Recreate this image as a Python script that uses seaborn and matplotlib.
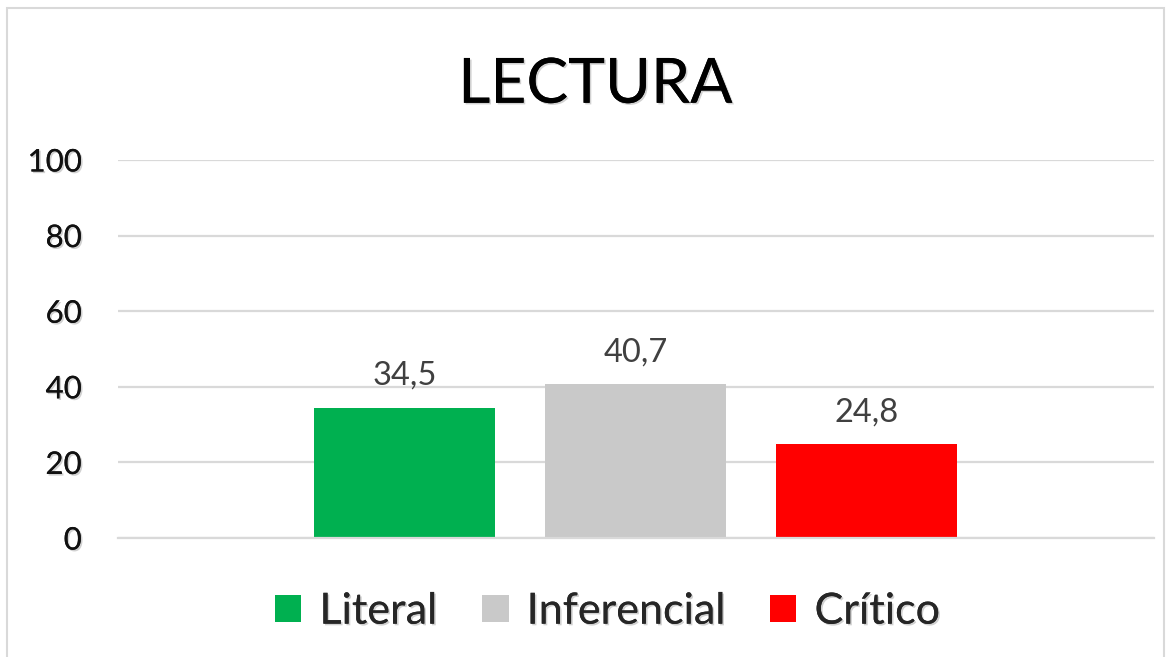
import matplotlib
matplotlib.use("Agg")
import matplotlib.pyplot as plt
import matplotlib.patheffects as pe
from matplotlib.patches import Rectangle, Patch
import seaborn as sns
import pandas as pd

# --- data ---
niveles = ["Literal", "Inferencial", "Crítico"]
valores = [34.5, 40.7, 24.8]
colores = ["#00B050", "#C9C9C9", "#FF0000"]
titulo = "LECTURA"
yticks = [0, 20, 40, 60, 80, 100]

df = pd.DataFrame({"grupo": ["Lectura"] * len(niveles), "nivel": niveles, "valor": valores})

sns.set_theme(style="white")
plt.rcParams["font.family"] = ["Lato", "DejaVu Sans"]

shadow = [pe.withSimplePatchShadow(offset=(1.2, -1.2), shadow_rgbFace="#000000", alpha=0.18), pe.Normal()]

fig = plt.figure(figsize=(11.72, 6.57), dpi=100)
ax = fig.add_axes([0.1005, 0.181, 0.884, 0.5755])

sns.barplot(data=df, x="grupo", y="valor", hue="nivel", hue_order=niveles,
            palette=colores, width=0.669, gap=0.216, legend=False, ax=ax,
            saturation=1, edgecolor="none")

for cont in ax.containers:
    labels = [f"{v:.1f}".replace(".", ",") for v in cont.datavalues]
    ax.bar_label(cont, labels=labels, padding=12, fontsize=23.5, color="#404040")

ax.set_ylim(0, 100)
ax.set_xlim(-0.5, 0.5)
ax.set_yticks(yticks)
ax.set_yticklabels([str(t) for t in yticks], fontsize=22.5, color="#111111")
for lab in ax.get_yticklabels():
    lab.set_path_effects(shadow)
ax.tick_params(axis="y", length=0, pad=26)
ax.set_xticks([])
ax.set_xlabel("")
ax.set_ylabel("")
ax.yaxis.grid(True, color="#D9D9D9", linewidth=1.6)
ax.set_axisbelow(True)
for s in ["top", "right", "left"]:
    ax.spines[s].set_visible(False)
ax.spines["bottom"].set_color("#D9D9D9")
ax.spines["bottom"].set_linewidth(1.6)

fig.text(0.508, 0.871, titulo, ha="center", va="center", fontsize=45,
         color="#000000", path_effects=shadow)

handles = [Patch(facecolor=c, edgecolor="none", label=n) for n, c in zip(niveles, colores)]
leg = fig.legend(handles=handles, loc="center", bbox_to_anchor=(0.518, 0.069), ncol=3,
                 frameon=False, fontsize=31, handlelength=0.62, handleheight=0.62,
                 handletextpad=0.42, columnspacing=1.05)
for t in leg.get_texts():
    t.set_path_effects(shadow)

# chart border
fig.patches.append(Rectangle((7 / 1172, -0.05), 1157 / 1172, 1.05 - 8 / 657,
                             transform=fig.transFigure, fill=False,
                             edgecolor="#D9D9D9", linewidth=1.5))

fig.savefig("out.png", dpi=100, facecolor="white")
